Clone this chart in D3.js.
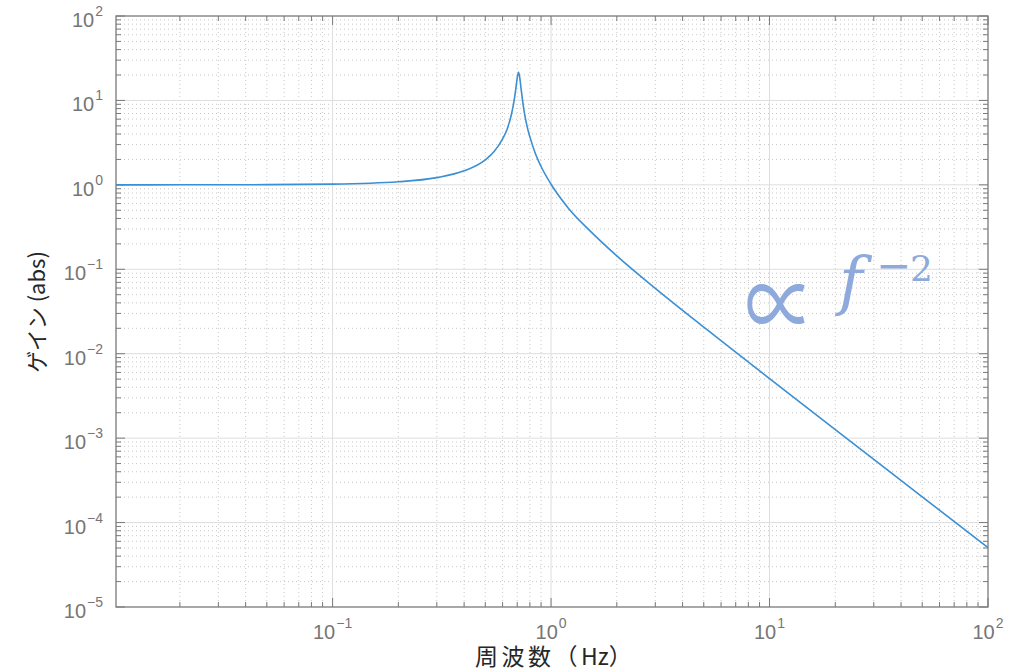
<!DOCTYPE html>
<html>
<head>
<meta charset="utf-8">
<script src="https://cdn.jsdelivr.net/npm/d3@7.9.0/dist/d3.min.js"></script>
<style>
  body { margin: 0; background: #fff; }
  svg { display: block; }
</style>
</head>
<body>
<svg id="chart" width="1028" height="672"></svg>
<script>
// values
const freq = [0.0102, 0.02, 0.05, 0.1, 0.2, 0.3, 0.4, 0.5, 0.55, 0.6, 0.63, 0.66, 0.68, 0.69, 0.70, 0.71,
              0.72, 0.73, 0.75, 0.78, 0.8, 0.85, 0.9, 1.0, 1.2, 1.5, 2, 3, 5, 10, 20, 50, 100];
const gain = [1.0, 1.001, 1.005, 1.02, 1.087, 1.217, 1.465, 1.98, 2.5, 3.5, 4.6, 7.0, 10.6, 13.8, 18.5, 21.5,
              18.1, 13.4, 7.9, 4.7, 3.7, 2.3, 1.65, 1.016, 0.53, 0.289, 0.144, 0.0593, 0.0206, 0.00507, 0.00126, 2.02e-4, 5.04e-5];
const xTickExps = [-1, 0, 1, 2];
const yTickExps = [-5, -4, -3, -2, -1, 0, 1, 2];

const pLeft = 116, pRight = 988, pTop = 16, pBottom = 607;
const svg = d3.select('#chart');

let x = d3.scaleLog().domain([0.0102, 100]).range([pLeft, pRight]);
let y = d3.scaleLog().domain([1e-5, 1e2]).range([pBottom, pTop]);

// minor values
let xMinor = [], yMinor = [];
[-2, -1, 0, 1].forEach(e => { for (let m = 2; m <= 9; m++) xMinor.push(m * Math.pow(10, e)); });
yTickExps.slice(0, -1).forEach(e => { for (let m = 2; m <= 9; m++) yMinor.push(m * Math.pow(10, e)); });
xMinor = xMinor.filter(v => v > 0.0102 && v < 100);

const grid = svg.append('g');
// minor grid (dotted)
grid.selectAll('.xm').data(xMinor).enter().append('line')
  .attr('x1', d => x(d)).attr('x2', d => x(d)).attr('y1', pTop).attr('y2', pBottom)
  .attr('stroke', '#c8c8c8').attr('stroke-width', 1).attr('stroke-dasharray', '1,3');
grid.selectAll('.ym').data(yMinor).enter().append('line')
  .attr('y1', d => y(d)).attr('y2', d => y(d)).attr('x1', pLeft).attr('x2', pRight)
  .attr('stroke', '#c8c8c8').attr('stroke-width', 1).attr('stroke-dasharray', '1,3');
// major grid
grid.selectAll('.xg').data(xTickExps.slice(0, -1)).enter().append('line')
  .attr('x1', d => x(Math.pow(10, d))).attr('x2', d => x(Math.pow(10, d))).attr('y1', pTop).attr('y2', pBottom)
  .attr('stroke', '#dedede').attr('stroke-width', 1);
grid.selectAll('.yg').data(yTickExps.slice(1, -1)).enter().append('line')
  .attr('y1', d => y(Math.pow(10, d))).attr('y2', d => y(Math.pow(10, d))).attr('x1', pLeft).attr('x2', pRight)
  .attr('stroke', '#dedede').attr('stroke-width', 1);

// ticks on all four sides, pointing inward
const tickCol = '#7a7a7a';
const ticks = svg.append('g').attr('stroke', tickCol).attr('stroke-width', 1);
xTickExps.map(e => Math.pow(10, e)).forEach(v => {
  ticks.append('line').attr('x1', x(v)).attr('x2', x(v)).attr('y1', pBottom).attr('y2', pBottom - 9);
  ticks.append('line').attr('x1', x(v)).attr('x2', x(v)).attr('y1', pTop).attr('y2', pTop + 9);
});
xMinor.forEach(v => {
  ticks.append('line').attr('x1', x(v)).attr('x2', x(v)).attr('y1', pBottom).attr('y2', pBottom - 5);
  ticks.append('line').attr('x1', x(v)).attr('x2', x(v)).attr('y1', pTop).attr('y2', pTop + 5);
});
yTickExps.map(e => Math.pow(10, e)).forEach(v => {
  ticks.append('line').attr('y1', y(v)).attr('y2', y(v)).attr('x1', pLeft).attr('x2', pLeft + 9);
  ticks.append('line').attr('y1', y(v)).attr('y2', y(v)).attr('x1', pRight).attr('x2', pRight - 9);
});
yMinor.forEach(v => {
  ticks.append('line').attr('y1', y(v)).attr('y2', y(v)).attr('x1', pLeft).attr('x2', pLeft + 5);
  ticks.append('line').attr('y1', y(v)).attr('y2', y(v)).attr('x1', pRight).attr('x2', pRight - 5);
});

// box
svg.append('rect').attr('x', pLeft).attr('y', pTop).attr('width', pRight - pLeft).attr('height', pBottom - pTop)
  .attr('fill', 'none').attr('stroke', tickCol).attr('stroke-width', 1.3);

// curve
const pts = freq.map((f, i) => [f, gain[i]]);
svg.append('path').datum(pts)
  .attr('d', d3.line().x(d => x(d[0])).y(d => y(d[1])).curve(d3.curveMonotoneX))
  .attr('fill', 'none').attr('stroke', '#3b8fd3').attr('stroke-width', 1.6);

// tick labels
const labFont = '"Liberation Sans", Arial, sans-serif';
const labCol = '#767676';
xTickExps.forEach(e => {
  const t = svg.append('text').attr('x', x(Math.pow(10, e))).attr('y', 639)
    .attr('text-anchor', 'middle').attr('font-family', labFont).attr('fill', labCol).attr('font-size', 20);
  t.append('tspan').text('10');
  t.append('tspan').attr('dy', -11).attr('dx', 1).attr('font-size', 14).text(e < 0 ? '\u2212' + (-e) : String(e));
});
yTickExps.forEach(e => {
  const t = svg.append('text').attr('x', 103).attr('y', y(Math.pow(10, e)) + 11)
    .attr('text-anchor', 'end').attr('font-family', labFont).attr('fill', labCol).attr('font-size', 20);
  t.append('tspan').text('10');
  t.append('tspan').attr('dy', -11).attr('dx', 1).attr('font-size', 14).text(e < 0 ? '\u2212' + (-e) : String(e));
});

// axis labels
const xl = svg.append('text').attr('x', 475).attr('y', 665)
  .attr('font-family', '"Noto Sans CJK JP", sans-serif').attr('font-size', 23).attr('fill', '#262626');
xl.append('tspan').attr('letter-spacing', 3.5).text('周波数（');
xl.append('tspan').text('Hz）');
svg.append('text').attr('transform', 'translate(45,312) rotate(-90)').attr('text-anchor', 'middle')
  .attr('font-family', '"Noto Sans CJK JP", sans-serif').attr('font-size', 22).attr('fill', '#262626')
  .text('ゲイン (abs)');

// annotation
const annCol = '#8eaadc';
svg.append('text').attr('transform', 'translate(745,342) scale(1,1.45)').attr('fill', annCol)
  .attr('font-family', '"Noto Sans CJK JP", sans-serif').attr('font-size', 70).text('\u221d');
svg.append('text').attr('x', 839).attr('y', 303).attr('fill', annCol)
  .attr('font-family', '"DejaVu Serif", serif').attr('font-size', 64).attr('font-style', 'italic').text('f');
svg.append('text').attr('x', 876).attr('y', 280).attr('fill', annCol)
  .attr('font-family', '"DejaVu Sans", sans-serif').attr('font-size', 42).text('\u2212');
svg.append('text').attr('x', 910).attr('y', 281).attr('fill', annCol)
  .attr('font-family', '"DejaVu Serif", serif').attr('font-size', 36).text('2');
</script>
</body>
</html>
